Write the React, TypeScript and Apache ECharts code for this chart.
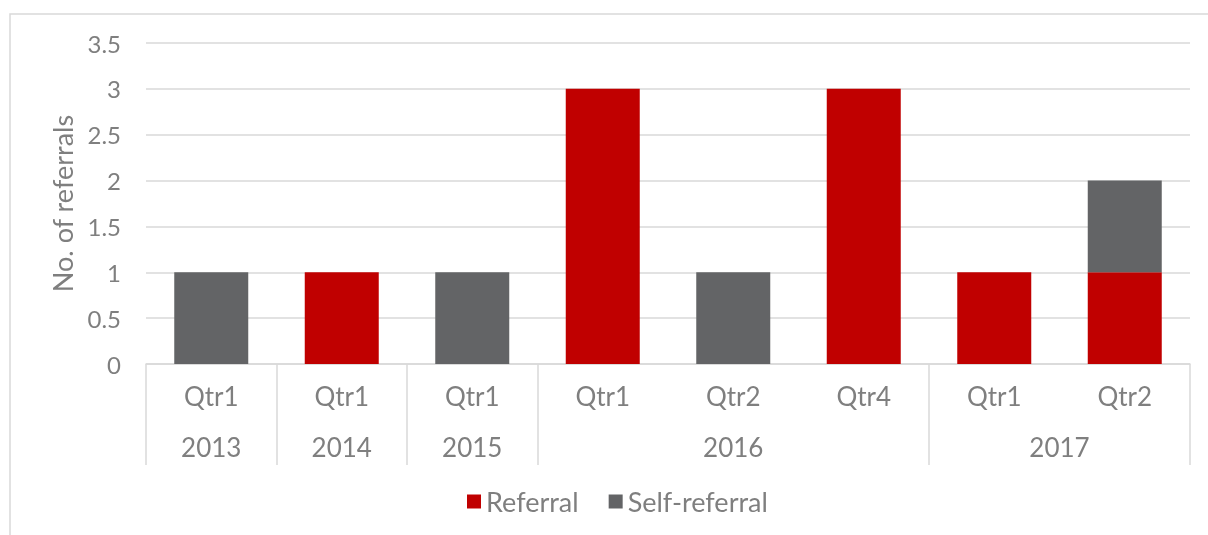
import React, { useEffect, useRef } from "react";
import * as echarts from "echarts";

const quarters = ["Qtr1", "Qtr1", "Qtr1", "Qtr1", "Qtr2", "Qtr4", "Qtr1", "Qtr2"];
const years = ["2013", "2014", "2015", "2016", "2017"];
const yearSpans = [1, 1, 1, 3, 2];
const referral = [0, 1, 0, 3, 0, 3, 1, 1];
const selfReferral = [1, 0, 1, 0, 1, 0, 0, 1];
const seriesNames = ["Referral", "Self-referral"];

const FONT = "Lato";
const TEXT = "#7f7f7f";
const LINE = "#d9d9d9";

export default function App() {
  const ref = useRef<HTMLDivElement>(null);
  useEffect(() => {
    if (!ref.current) return;
    const chart = echarts.init(ref.current, null, { renderer: "svg" });
    const bounds: number[] = [0];
    const centers: number[] = [];
    yearSpans.forEach((s) => {
      const start = bounds[bounds.length - 1];
      centers.push(start + s / 2);
      bounds.push(start + s);
    });
    chart.setOption({
      animation: false,
      textStyle: { fontFamily: FONT },
      graphic: [
        {
          type: "rect",
          shape: { x: 10, y: 14, width: 1240, height: 560 },
          style: { fill: "none", stroke: LINE, lineWidth: 1.5 },
          silent: true,
        },
      ],
      legend: {
        bottom: 15,
        left: 462,
        itemWidth: 14,
        itemHeight: 14,
        itemGap: 30,
        icon: "rect",
        textStyle: { color: TEXT, fontSize: 27, fontFamily: FONT },
        data: seriesNames,
      },
      grid: { left: 146, right: 18, top: 43, bottom: 171, containLabel: false },
      xAxis: [
        {
          type: "category",
          data: quarters,
          position: "bottom",
          axisLine: { show: true, lineStyle: { color: LINE, width: 1.5 } },
          axisTick: { show: false },
          axisLabel: { color: TEXT, fontSize: 26, margin: 19, fontFamily: FONT },
        },
        {
          type: "value",
          min: 0,
          max: bounds[bounds.length - 1],
          position: "bottom",
          axisLine: { show: false },
          splitLine: { show: false },
          axisTick: {
            show: true,
            length: 101,
            customValues: bounds,
            lineStyle: { color: LINE, width: 1.5 },
          },
          axisLabel: {
            show: true,
            customValues: centers,
            margin: 70,
            color: TEXT,
            fontSize: 26,
            fontFamily: FONT,
            formatter: (v: number) => {
              const i = centers.findIndex((c) => Math.abs(c - v) < 1e-6);
              return i >= 0 ? years[i] : "";
            },
          },
        },
      ],
      yAxis: {
        type: "value",
        min: 0,
        max: 3.5,
        interval: 0.5,
        name: "No. of referrals",
        nameLocation: "middle",
        nameGap: 70,
        nameTextStyle: { color: TEXT, fontSize: 27, fontFamily: FONT },
        axisLine: { show: false },
        axisTick: { show: false },
        axisLabel: { color: TEXT, fontSize: 24, margin: 25, fontFamily: FONT },
        splitLine: { lineStyle: { color: LINE, width: 1.5 } },
      },
      series: [
        {
          name: seriesNames[0],
          type: "bar",
          stack: "total",
          barWidth: 74,
          xAxisIndex: 0,
          itemStyle: { color: "#c00000" },
          data: referral,
        },
        {
          name: seriesNames[1],
          type: "bar",
          stack: "total",
          barWidth: 74,
          xAxisIndex: 0,
          itemStyle: { color: "#636466" },
          data: selfReferral,
        },
      ],
    });
    return () => chart.dispose();
  }, []);
  return (
    <div
      ref={ref}
      style={{ position: "fixed", left: 0, top: 0, width: 1208, height: 535 }}
    />
  );
}
